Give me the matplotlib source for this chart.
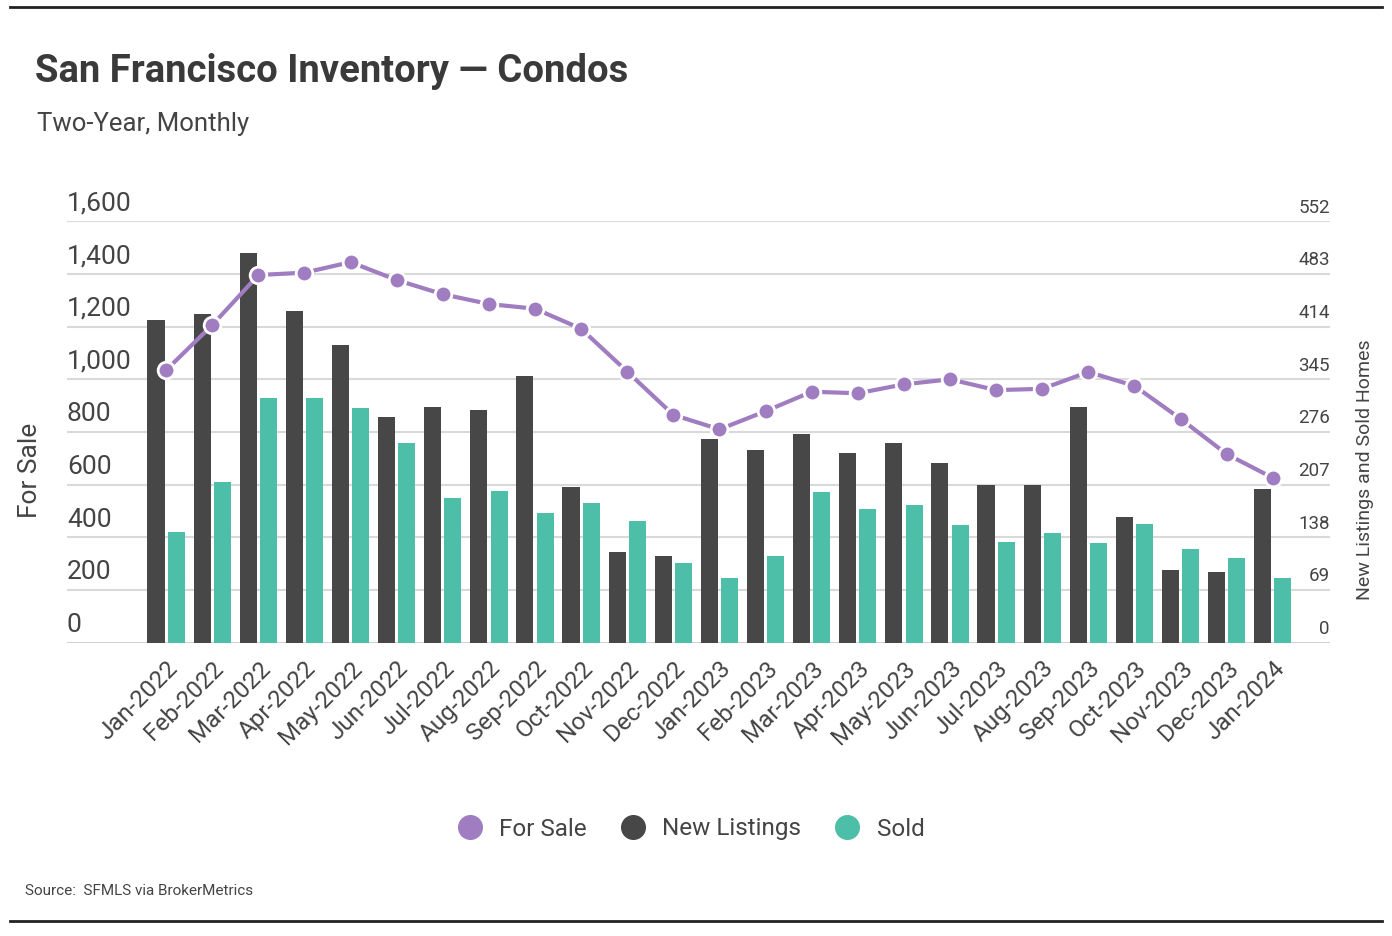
import matplotlib
matplotlib.use("Agg")
import matplotlib.pyplot as plt
import matplotlib.transforms as mtransforms
from matplotlib.lines import Line2D
import numpy as np

plt.rcParams["font.family"] = ["Roboto", "DejaVu Sans"]

months = ["Jan-2022", "Feb-2022", "Mar-2022", "Apr-2022", "May-2022", "Jun-2022",
          "Jul-2022", "Aug-2022", "Sep-2022", "Oct-2022", "Nov-2022", "Dec-2022",
          "Jan-2023", "Feb-2023", "Mar-2023", "Apr-2023", "May-2023", "Jun-2023",
          "Jul-2023", "Aug-2023", "Sep-2023", "Oct-2023", "Nov-2023", "Dec-2023",
          "Jan-2024"]
for_sale = [1035, 1206, 1396, 1405, 1445, 1377, 1323, 1286, 1268, 1192, 1029, 865,
            810, 879, 953, 947, 981, 1000, 959, 964, 1028, 975, 850, 716, 626]
new_listings = [423, 430, 510, 435, 390, 295, 309, 305, 349, 204, 119, 114,
                267, 253, 274, 248, 262, 236, 206, 206, 309, 165, 95, 93, 201]
sold = [145, 211, 321, 321, 307, 262, 189, 199, 170, 183, 159, 104,
        85, 114, 197, 175, 180, 154, 132, 144, 130, 156, 123, 111, 85]

left_ticks = [0, 200, 400, 600, 800, 1000, 1200, 1400, 1600]
right_ticks = [0, 69, 138, 207, 276, 345, 414, 483, 552]

PURPLE = "#a07cc0"
DARK = "#474747"
TEAL = "#4dbea8"
TXT = "#444444"
GRID = "#d9d9d9"

W, H = 1392, 936
fig = plt.figure(figsize=(W / 100, H / 100), dpi=100)

# axes placed in pixel terms of the reference
x0, x1, ytop, ybot = 67, 1330, 221.3, 642.7
ax = fig.add_axes([x0 / W, 1 - ybot / H, (x1 - x0) / W, (ybot - ytop) / H])
ax2 = ax.twinx()

x = np.arange(len(months))
bw = 0.37
ax2.bar(x - 0.22, new_listings, width=bw, color=DARK, zorder=2)
ax2.bar(x + 0.22, sold, width=bw, color=TEAL, zorder=2)
ax2.set_ylim(0, 552)

ax.set_zorder(ax2.get_zorder() + 1)
ax.patch.set_visible(False)
ax.plot(x, for_sale, color=PURPLE, lw=3, marker="o", ms=12,
        markerfacecolor=PURPLE, markeredgecolor="white", markeredgewidth=2, zorder=3)
ax.set_ylim(0, 1600)
ax.set_xlim(-2.15, 25.24)

# grid lines drawn behind bars
for v in left_ticks[1:]:
    ax2.axhline(v * 552 / 1600, color=GRID, lw=1.5, zorder=0)
ax2.axhline(0, color="#cccccc", lw=2, zorder=1)

for a in (ax, ax2):
    for s in a.spines.values():
        s.set_visible(False)
    a.set_yticks([])
    a.tick_params(length=0)

ax.set_xticks(x)
ax.set_xticklabels(months, rotation=45, ha="right", rotation_mode="anchor",
                   fontsize=17.5, color=TXT)
ax.tick_params(axis="x", pad=10)

# y tick labels sit above their grid lines
tl = mtransforms.blended_transform_factory(ax.transAxes, ax.transData)
for v in left_ticks:
    ax.text(0, v + 22, f"{v:,}", transform=tl, ha="left", va="bottom",
            fontsize=19, color=TXT)
tr = mtransforms.blended_transform_factory(ax2.transAxes, ax2.transData)
for v in right_ticks:
    ax2.text(1, v + 6, f"{v}", transform=tr, ha="right", va="bottom",
             fontsize=13.5, color=TXT)

fig.text(30 / W, 1 - 470 / H, "For Sale", rotation=90, ha="center", va="center",
         fontsize=19, color=TXT)
fig.text(1365 / W, 1 - 470 / H, "New Listings and Sold Homes", rotation=90,
         ha="center", va="center", fontsize=14, color=TXT)

fig.text(35 / W, 1 - 72 / H, "San Francisco Inventory \u2014 Condos", ha="left",
         va="center", fontsize=27.5, fontweight="bold", color="#3a3a3a")
fig.text(37 / W, 1 - 124 / H, "Two-Year, Monthly", ha="left", va="center",
         fontsize=18.5, color=TXT)
fig.text(25 / W, 1 - 891 / H, "Source:  SFMLS via BrokerMetrics", ha="left",
         va="center", fontsize=11, color=TXT)

handles = [Line2D([], [], ls="", marker="o", ms=17, color=c)
           for c in (PURPLE, DARK, TEAL)]
fig.legend(handles, ["For Sale", "New Listings", "Sold"], loc="center",
           bbox_to_anchor=(685 / W, 1 - 829 / H), ncol=3, frameon=False,
           fontsize=17.5, handletextpad=0.2, columnspacing=0.9, labelcolor=TXT)

fig.add_artist(Line2D([10 / W, 1382 / W], [1 - 7 / H, 1 - 7 / H], color="#222222", lw=2))
fig.add_artist(Line2D([10 / W, 1382 / W], [1 - 921 / H, 1 - 921 / H], color="#222222", lw=2))

fig.savefig("out.png", dpi=100)
